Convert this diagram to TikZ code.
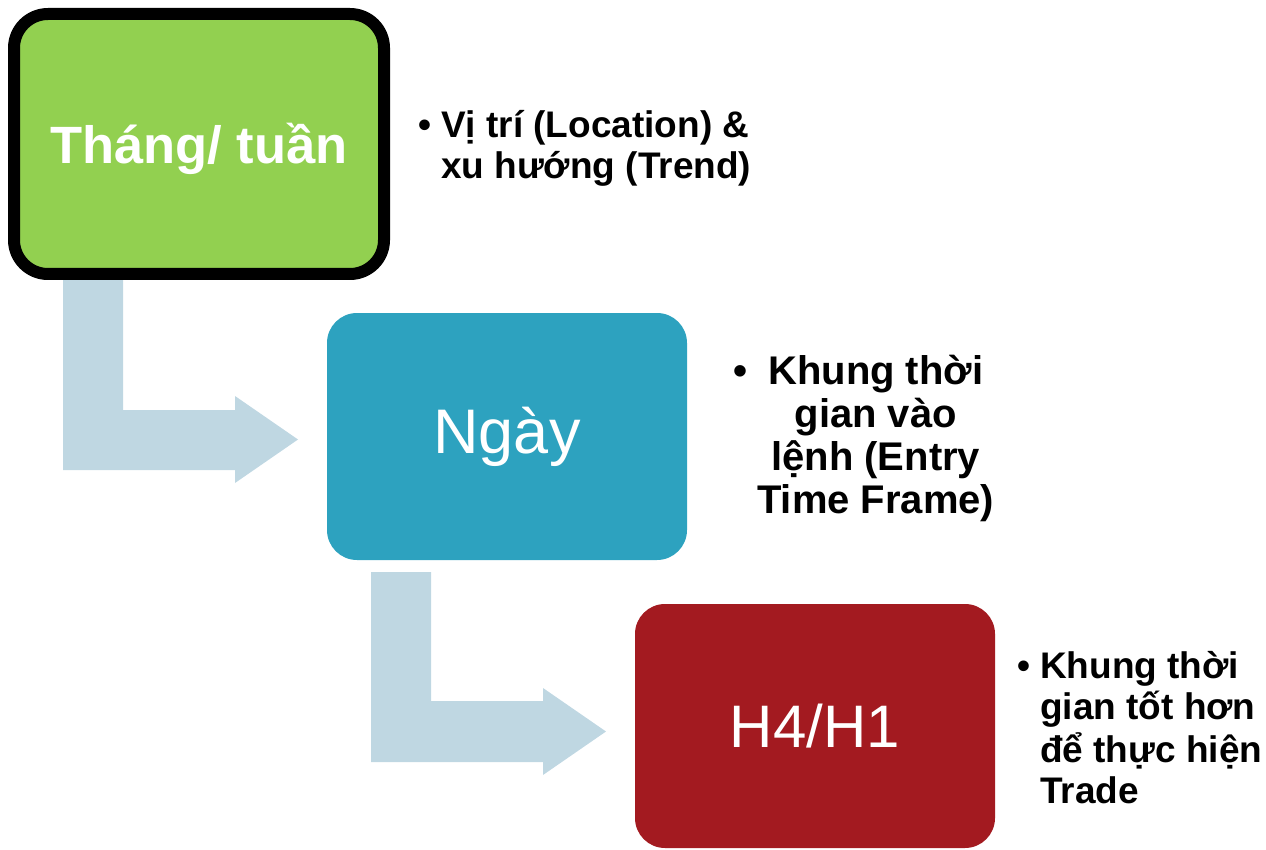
\documentclass[tikz,border=0pt]{standalone}
\usepackage{fontspec}
\setmainfont{Liberation Sans}
\definecolor{boxgreen}{HTML}{92D050}
\definecolor{boxteal}{HTML}{2DA2BF}
\definecolor{boxred}{HTML}{A31A20}
\definecolor{arrowblue}{HTML}{BFD7E2}
\begin{document}
\begin{tikzpicture}[x=1pt,y=-1pt,
  box/.style={rectangle,rounded corners=30pt,inner sep=0pt,text=white},
  bentarrow/.style={fill=arrowblue,draw=none},
  note/.style={inner sep=0pt,font=\fontsize{37}{41}\selectfont\bfseries}]
\useasboundingbox (0,0) rectangle (1266,850);
% arrows (behind boxes)
\fill[bentarrow] (63,270) -- (123,270) -- (123,410) -- (235,410) -- (235,396) -- (298,439.5) -- (235,483) -- (235,470) -- (63,470) -- cycle;
\fill[bentarrow] (371,572) -- (431,572) -- (431,701) -- (543,701) -- (543,688) -- (606,731.5) -- (543,775) -- (543,762) -- (371,762) -- cycle;
% boxes
\node[box,draw=black,line width=12pt,fill=boxgreen,minimum width=370pt,minimum height=260pt,rounded corners=34pt,
  font=\fontsize{52.5}{60}\selectfont\bfseries] (month) at (199,144) {\raisebox{-5pt}[\height][\depth]{Tháng/ tuần}};
\node[box,fill=boxteal,minimum width=360pt,minimum height=247pt,
  font=\fontsize{63}{70}\selectfont] (day) at (507,436.5) {Ngày};
\node[box,fill=boxred,minimum width=360pt,minimum height=244pt,
  font=\fontsize{60}{70}\selectfont] (hour) at (815,726) {H4/H1};
% notes
\node[note,anchor=north west] (n1) at (418,109) {\begin{tabular}{@{}l@{\hspace{10pt}}l@{}}•&Vị trí (Location) \&\\&xu hướng (Trend)\end{tabular}};
\node[note,anchor=north west,font=\fontsize{40}{43}\selectfont\bfseries] (n2) at (733,354) {\begin{tabular}{@{}l@{\hspace{10pt}}c@{}}•&Khung thời\\&gian vào\\&lệnh (Entry\\&Time Frame)\end{tabular}};
\node[note,anchor=north west] (n3) at (1017,650) {\begin{tabular}{@{}l@{\hspace{10pt}}l@{}}•&Khung thời\\&gian tốt hơn\\&để thực hiện\\&Trade\end{tabular}};
\end{tikzpicture}
\end{document}
